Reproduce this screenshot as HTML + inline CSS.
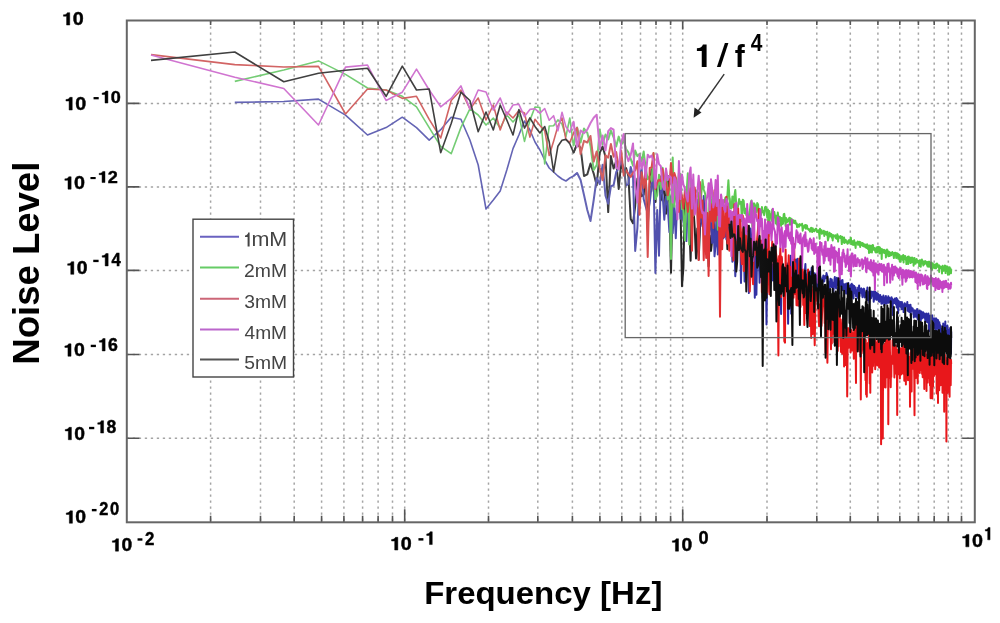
<!DOCTYPE html><html><head><meta charset="utf-8"><style>html,body{margin:0;padding:0;background:#fff;width:1000px;height:623px;overflow:hidden}svg{display:block;filter:blur(0.7px)}text{font-family:"Liberation Sans",sans-serif}</style></head><body>
<svg width="1000" height="623" viewBox="0 0 1000 623">
<rect width="1000" height="623" fill="#fff"/>
<path d="M210.6 20.5V522.3M260.5 20.5V522.3M294.2 20.5V522.3M321.6 20.5V522.3M343.9 20.5V522.3M362.6 20.5V522.3M378.1 20.5V522.3M392.5 20.5V522.3M404.7 20.5V522.3M488.5 20.5V522.3M537.8 20.5V522.3M572.4 20.5V522.3M599.9 20.5V522.3M621.8 20.5V522.3M640.5 20.5V522.3M656.0 20.5V522.3M670.6 20.5V522.3M682.7 20.5V522.3M767.0 20.5V522.3M816.8 20.5V522.3M850.3 20.5V522.3M877.9 20.5V522.3M899.8 20.5V522.3M918.4 20.5V522.3M934.2 20.5V522.3M948.3 20.5V522.3M961.5 20.5V522.3M126.8 103.4H974.8M126.8 186.9H974.8M126.8 270.4H974.8M126.8 354.5H974.8M126.8 438.2H974.8" stroke="#a4a4a4" stroke-width="1.5" stroke-dasharray="2.3 3.7" fill="none"/>
<linearGradient id="gblue" gradientUnits="userSpaceOnUse" x1="150" y1="0" x2="780" y2="0"><stop offset="0" stop-color="#6464b4"/><stop offset="0.7" stop-color="#6464b4"/><stop offset="1" stop-color="#2c2ca2"/></linearGradient>
<linearGradient id="ggreen" gradientUnits="userSpaceOnUse" x1="150" y1="0" x2="780" y2="0"><stop offset="0" stop-color="#74cc74"/><stop offset="0.7" stop-color="#74cc74"/><stop offset="1" stop-color="#55c845"/></linearGradient>
<linearGradient id="gred" gradientUnits="userSpaceOnUse" x1="150" y1="0" x2="780" y2="0"><stop offset="0" stop-color="#d26464"/><stop offset="0.7" stop-color="#d26464"/><stop offset="1" stop-color="#e8171b"/></linearGradient>
<linearGradient id="gmagenta" gradientUnits="userSpaceOnUse" x1="150" y1="0" x2="780" y2="0"><stop offset="0" stop-color="#d074d0"/><stop offset="0.7" stop-color="#d074d0"/><stop offset="1" stop-color="#c443c4"/></linearGradient>
<linearGradient id="gblack" gradientUnits="userSpaceOnUse" x1="150" y1="0" x2="780" y2="0"><stop offset="0" stop-color="#404040"/><stop offset="0.7" stop-color="#404040"/><stop offset="1" stop-color="#0c0c0c"/></linearGradient>
<path d="M234.8,102.4 283.8,101.5 318.5,99.1 345.5,115.1 367.5,135.0 386.1,127.6 402.3,117.2 416.5,127.6 429.2,140.1 440.7,129.7 451.2,117.2 460.9,119.3 469.9,140.0 478.2,165.0 486.0,209.0 493.3,200.0 500.2,191.0 506.8,170.0 513.0,148.6 518.9,135.0 524.5,121.0 529.9,130.0 535.0,142.0 539.9,150.0 544.7,160.0 549.2,168.0 553.6,172.0 557.9,176.0 562.0,179.0 565.9,181.0 569.8,178.0 573.5,176.0 577.1,173.0" stroke="url(#gblue)" stroke-width="1.6" fill="none" stroke-linejoin="round"/>
<path d="M234.8,81.4 283.8,70.0 318.5,60.9 345.5,74.4 367.5,88.0 386.1,90.0 402.3,96.3 416.5,106.8 429.2,127.6 440.7,146.4 451.2,153.7 460.9,127.6 469.9,108.9 478.2,115.0 486.0,125.0 493.3,118.0 500.2,128.0 506.8,115.0 513.0,122.0 518.9,114.9 524.5,141.4 529.9,120.4 535.0,107.0 539.9,107.5 544.7,164.0 549.2,126.0 553.6,125.7 557.9,119.9 562.0,124.0 565.9,136.7 569.8,118.0 573.5,145.6 577.1,127.6" stroke="url(#ggreen)" stroke-width="1.6" fill="none" stroke-linejoin="round"/>
<path d="M151.0,54.6 234.8,64.6 283.8,67.0 318.5,66.4 345.5,114.0 367.5,89.0 386.1,90.0 402.3,98.4 416.5,96.3 429.2,119.3 440.7,138.0 451.2,100.5 460.9,90.0 469.9,108.9 478.2,98.0 486.0,120.0 493.3,105.0 500.2,130.0 506.8,112.0 513.0,118.0 518.9,110.6 524.5,113.0 529.9,137.1 535.0,119.3 539.9,125.5 544.7,130.6 549.2,155.5 553.6,141.2 557.9,126.1 562.0,117.9 565.9,139.3 569.8,142.6 573.5,133.4 577.1,127.8" stroke="url(#gred)" stroke-width="1.6" fill="none" stroke-linejoin="round"/>
<path d="M151.0,55.0 234.8,77.2 283.8,88.5 318.5,125.0 345.5,67.1 367.5,65.0 386.1,100.5 402.3,92.2 416.5,69.2 429.2,90.0 440.7,106.8 451.2,98.4 460.9,85.9 469.9,108.9 478.2,90.0 486.0,92.0 493.3,110.0 500.2,98.0 506.8,115.0 513.0,105.0 518.9,104.3 524.5,116.6 529.9,109.4 535.0,108.8 539.9,113.1 544.7,108.5 549.2,120.2 553.6,115.7 557.9,130.8 562.0,112.3 565.9,126.6 569.8,132.4 573.5,121.6 577.1,146.8" stroke="url(#gmagenta)" stroke-width="1.6" fill="none" stroke-linejoin="round"/>
<path d="M151.0,60.4 234.8,52.0 283.8,81.8 318.5,73.2 345.5,70.3 367.5,68.2 386.1,96.3 402.3,66.1 416.5,90.0 429.2,89.0 440.7,152.7 451.2,123.5 460.9,92.2 469.9,100.5 478.2,131.8 486.0,112.0 493.3,130.0 500.2,105.0 506.8,120.0 513.0,135.0 518.9,109.6 524.5,128.1 529.9,117.9 535.0,126.4 539.9,133.0 544.7,126.5 549.2,141.8 553.6,171.9 557.9,146.2 562.0,140.2 565.9,139.4 569.8,143.7 573.5,152.8 577.1,144.0" stroke="url(#gblack)" stroke-width="1.6" fill="none" stroke-linejoin="round"/>
<path d="M573.5,152.8 577.1,144.0 580.6,147.9 584.0,176.0 587.3,174.4 590.5,163.5 593.7,173.6 596.7,185.4 599.7,152.9 602.6,146.5 605.5,156.8 608.2,212.1 610.9,156.1 613.6,168.6 616.2,161.1 618.7,189.0 621.2,162.7 623.7,172.6 626.1,168.1 628.4,176.3 630.7,219.0 633.0,223.3 635.2,206.0 637.4,178.6 639.5,187.9 641.6,196.2 643.7,194.6 645.7,174.1 647.7,229.2 649.7,184.1 651.6,169.2 653.5,189.4 655.4,202.0 657.2,184.7 659.0,178.4 660.8,200.4 662.6,193.6 664.3,186.5 666.0,213.8 667.7,175.7 669.4,203.2 671.0,272.8 672.7,194.3 674.3,199.1 675.8,196.3 677.4,205.7 678.9,202.5 680.5,206.6 682.0,286.2 683.4,268.0 684.9,198.4 686.4,205.0 687.8,204.0 689.2,221.3 690.6,260.7 692.0,200.4 693.3,206.3 694.7,227.5 696.0,258.4 697.3,228.6 698.7,259.6 699.9,230.6 701.2,200.3 702.5,206.5 703.7,228.7 705.0,232.9 706.2,254.0 707.4,219.2 708.6,266.4 709.8,235.5 711.0,250.8 712.2,240.0 713.3,212.4 714.5,236.4 715.6,246.4 716.7,229.1 717.8,239.2 718.9,239.4 720.0,232.1 721.1,235.7 722.2,225.0 723.3,220.2 724.3,231.5 725.4,232.3 726.4,226.6 727.4,249.3 728.4,230.1 729.4,223.7 730.5,238.0" stroke="url(#gblack)" stroke-width="2.0" fill="none" stroke-linejoin="round"/>
<path d="M573.5,176.0 577.1,173.0 580.6,180.0 584.0,195.0 587.3,210.0 590.5,221.0 593.7,200.0 596.7,178.0 599.7,184.1 602.6,164.7 605.5,195.8 608.2,203.7 610.9,186.3 613.6,185.3 616.2,172.1 618.7,168.2 621.2,160.9 623.7,168.1 626.1,185.5 628.4,183.9 630.7,167.0 633.0,176.0 635.2,251.0 637.4,227.8 639.5,181.6 641.6,167.9 643.7,199.3 645.7,206.4 647.7,213.6 649.7,203.0 651.6,186.3 653.5,173.1 655.4,273.0 657.2,209.9 659.0,255.8 660.8,176.5 662.6,194.5 664.3,219.7 666.0,196.8 667.7,205.8 669.4,232.1 671.0,196.6 672.7,233.3 674.3,205.3 675.8,238.3 677.4,195.1 678.9,178.5 680.5,218.8 682.0,207.4 683.4,222.1 684.9,229.7 686.4,241.1 687.8,202.4 689.2,196.6 690.6,192.0 692.0,208.3 693.3,194.3 694.7,208.2 696.0,198.6 697.3,199.9 698.7,249.5 699.9,214.6 701.2,219.2 702.5,226.2 703.7,196.1 705.0,228.7 706.2,235.6 707.4,217.7 708.6,250.7 709.8,217.0 711.0,224.4 712.2,242.9 713.3,205.9 714.5,256.3 715.6,245.2 716.7,205.8 717.8,254.5 718.9,227.6 720.0,243.7 721.1,208.6 722.2,209.2 723.3,238.2 724.3,236.4 725.4,226.3 726.4,239.4 727.4,234.7 728.4,224.1 729.4,226.8 730.5,237.1" stroke="url(#gblue)" stroke-width="2.0" fill="none" stroke-linejoin="round"/>
<path d="M573.5,145.6 577.1,127.6 580.6,142.5 584.0,128.5 587.3,132.8 590.5,145.9 593.7,170.0 596.7,165.1 599.7,129.8 602.6,144.3 605.5,134.5 608.2,139.4 610.9,130.6 613.6,137.3 616.2,146.5 618.7,136.6 621.2,145.0 623.7,140.0 626.1,149.2 628.4,152.3 630.7,158.9 633.0,165.8 635.2,150.6 637.4,156.1 639.5,153.8 641.6,161.8 643.7,151.5 645.7,168.3 647.7,179.3 649.7,176.0 651.6,181.0 653.5,153.2 655.4,199.1 657.2,195.3 659.0,174.7 660.8,188.9 662.6,167.8 664.3,186.2 666.0,169.5 667.7,199.4 669.4,188.0 671.0,259.0 672.7,157.5 674.3,206.7 675.8,178.0 677.4,192.2 678.9,173.0 680.5,174.0 682.0,209.2 683.4,209.9 684.9,240.4 686.4,195.8 687.8,173.2 689.2,244.6 690.6,179.1 692.0,180.2 693.3,216.0 694.7,195.3 696.0,190.3 697.3,191.9 698.7,193.7 699.9,216.5 701.2,195.2 702.5,180.1 703.7,189.2 705.0,193.2 706.2,201.7 707.4,232.5 708.6,249.2 709.8,183.4 711.0,198.7 712.2,204.1 713.3,223.3 714.5,192.2 715.6,206.8 716.7,190.1 717.8,229.8 718.9,201.5 720.0,199.9 721.1,199.7 722.2,206.1 723.3,201.9 724.3,202.2 725.4,197.5 726.4,207.5 727.4,195.4 728.4,180.3 729.4,197.5 730.5,208.1" stroke="url(#ggreen)" stroke-width="2.0" fill="none" stroke-linejoin="round"/>
<path d="M573.5,133.4 577.1,127.8 580.6,154.0 584.0,140.8 587.3,142.5 590.5,136.0 593.7,161.6 596.7,151.4 599.7,167.5 602.6,180.2 605.5,155.3 608.2,157.7 610.9,143.9 613.6,156.8 616.2,152.1 618.7,168.7 621.2,150.5 623.7,175.6 626.1,170.2 628.4,174.1 630.7,177.0 633.0,172.6 635.2,170.3 637.4,161.2 639.5,214.8 641.6,172.3 643.7,188.0 645.7,167.0 647.7,257.0 649.7,168.0 651.6,167.5 653.5,153.1 655.4,189.0 657.2,182.4 659.0,179.9 660.8,181.1 662.6,169.1 664.3,180.5 666.0,182.3 667.7,195.2 669.4,186.1 671.0,162.9 672.7,182.8 674.3,172.9 675.8,177.8 677.4,207.0 678.9,211.9 680.5,188.8 682.0,197.6 683.4,208.4 684.9,190.7 686.4,199.0 687.8,211.9 689.2,199.3 690.6,188.2 692.0,250.7 693.3,187.1 694.7,187.4 696.0,201.3 697.3,208.3 698.7,260.1 699.9,182.1 701.2,217.6 702.5,200.4 703.7,260.3 705.0,221.6 706.2,257.9 707.4,213.1 708.6,276.0 709.8,203.5 711.0,221.3 712.2,204.1 713.3,228.0 714.5,190.3 715.6,220.7 716.7,204.0 717.8,214.9 718.9,199.9 720.0,316.8 721.1,195.6 722.2,249.2 723.3,200.5 724.3,236.8 725.4,227.1 726.4,196.8 727.4,243.6 728.4,206.6 729.4,250.8 730.5,216.2" stroke="url(#gred)" stroke-width="2.0" fill="none" stroke-linejoin="round"/>
<path d="M573.5,121.6 577.1,146.8 580.6,130.5 584.0,133.2 587.3,129.6 590.5,123.0 593.7,117.8 596.7,114.8 599.7,149.1 602.6,135.4 605.5,150.5 608.2,131.2 610.9,128.1 613.6,129.7 616.2,167.9 618.7,169.0 621.2,142.7 623.7,133.9 626.1,154.0 628.4,161.1 630.7,155.1 633.0,143.4 635.2,185.6 637.4,202.5 639.5,154.6 641.6,168.5 643.7,159.1 645.7,177.4 647.7,154.7 649.7,157.4 651.6,155.5 653.5,160.9 655.4,187.7 657.2,154.2 659.0,164.1 660.8,166.2 662.6,185.8 664.3,189.8 666.0,168.4 667.7,180.1 669.4,175.8 671.0,177.7 672.7,202.6 674.3,177.2 675.8,180.5 677.4,219.4 678.9,161.0 680.5,199.1 682.0,174.5 683.4,184.4 684.9,188.6 686.4,197.0 687.8,201.5 689.2,175.2 690.6,167.6 692.0,208.6 693.3,174.6 694.7,214.7 696.0,208.5 697.3,192.7 698.7,175.7 699.9,193.3 701.2,208.6 702.5,213.2 703.7,212.2 705.0,234.4 706.2,201.1 707.4,195.5 708.6,183.2 709.8,210.0 711.0,179.3 712.2,189.3 713.3,207.4 714.5,201.7 715.6,180.1 716.7,206.0 717.8,175.4 718.9,225.7 720.0,226.4 721.1,194.5 722.2,206.1 723.3,200.2 724.3,209.6 725.4,211.6 726.4,198.8 727.4,202.0 728.4,204.7 729.4,217.1 730.5,210.5" stroke="url(#gmagenta)" stroke-width="2.0" fill="none" stroke-linejoin="round"/>
<path d="M729.4,226.8 730.5,237.1 731.4,234.6 732.4,261.7 733.4,212.6 734.4,243.7 735.3,276.3 736.3,256.2 737.2,242.2 738.2,225.9 739.1,235.2 740.0,220.1 741.0,283.0 741.9,232.5 742.8,249.8 743.7,244.0 744.6,281.6 745.5,254.3 746.3,235.8 747.2,249.0 748.1,264.4 748.9,293.1 749.8,245.6 750.6,228.6 751.5,241.9 752.3,251.8 753.1,273.0 754.0,246.9 754.8,297.7 755.6,252.6 756.4,294.8 757.2,248.1 758.0,249.7 758.8,252.8 759.6,282.7 760.4,245.2 761.1,262.8 761.9,256.4 762.7,298.2 763.4,270.5 764.2,293.5 765.0,273.2 765.7,249.5 766.5,324.4 767.2,274.6 767.9,258.5 768.7,263.5 769.4,276.5 770.1,265.3 770.8,254.4 771.5,263.9 772.2,267.3 772.9,280.4 773.6,264.4 774.3,252.2 775.0,289.6 775.7,259.1 776.4,278.7 777.1,268.1 777.8,274.7 778.4,293.9 779.1,261.7 779.8,279.1 780.4,269.0 781.1,314.0 781.7,258.0 782.4,265.5 783.0,267.9 783.7,266.7 784.3,279.1 785.0,297.1 785.6,273.6 786.2,276.5 786.9,280.1 787.5,263.5 788.1,323.8 788.7,283.9 789.3,269.3 790.0,299.8 790.6,255.7 791.2,313.8 791.8,267.4 792.4,266.5 793.0,266.8 793.6,277.6 794.2,271.7 794.7,268.8 795.3,266.4 795.9,259.6 796.5,271.2 797.1,280.5 797.6,258.8 798.2,270.6 798.8,272.7 799.3,306.1 799.9,269.6 800.5,284.4 801.0,272.1 801.6,268.7 802.1,276.0 802.7,281.2 803.2,272.3 803.8,273.6 804.3,280.3 804.9,270.5 805.4,264.1 805.9,283.3 806.5,274.5 807.0,300.5 807.5,311.9 808.1,270.2 808.6,278.7 809.1,272.3 809.6,271.5 810.1,283.2 810.7,276.8 811.2,278.5 811.7,267.7 812.2,269.9 812.7,271.7 813.2,280.0 813.7,283.9 814.2,282.4 814.7,273.3 815.2,275.4 815.7,275.3 816.2,285.1 816.7,288.4 817.2,275.4 817.6,275.0 818.1,276.5 818.6,287.8 819.1,273.7 819.6,283.0 820.0,276.4 820.5,277.1 821.0,280.8 821.5,284.0 821.9,279.6 822.4,283.8 822.9,278.7 823.3,275.6 823.8,281.5 824.3,281.4 824.7,277.1 825.2,276.0 825.6,278.3 826.1,277.7 826.5,273.1 827.0,275.3 827.4,276.0 827.9,282.1 828.3,284.1 828.8,285.2 829.2,292.9 829.6,281.9 830.1,281.4 830.5,278.7 831.0,281.5 831.4,286.9 831.8,279.5 832.3,287.1 832.7,282.6 833.1,293.6 833.5,290.4 834.0,286.7 834.4,280.1 834.8,277.1 835.2,283.0 835.6,282.6 836.1,288.4 836.5,284.3 836.9,277.7 837.3,283.2 837.7,283.1 838.1,285.1 838.5,283.0 838.9,281.1 839.3,293.4 839.8,278.0 840.2,279.9 840.6,280.1 841.0,285.5 841.4,280.9 841.8,282.6 842.2,284.4 842.5,280.0 842.9,290.2 843.3,283.9 843.7,284.5 844.1,286.0 844.5,284.5 844.9,288.9 845.3,286.8 845.7,284.0 846.1,293.6 846.4,283.6 846.8,286.5 847.2,284.0 847.6,288.5 848.0,284.0 848.3,282.9 848.7,285.9 849.1,288.4 849.5,286.2 849.8,289.5 850.2,296.5 850.6,288.3 850.9,285.2 851.3,284.3 851.7,283.7 852.0,295.3 852.4,288.4 852.8,284.9 853.1,296.9 853.5,298.4 853.8,288.4 854.2,286.1 854.6,290.3 854.9,291.4 855.3,293.3 855.6,287.5 856.0,296.3 856.3,290.1 856.7,291.9 857.0,291.3 857.4,291.1 857.7,297.8 858.1,287.4 858.4,298.8 858.8,293.3 859.1,285.6 859.5,296.3 859.8,290.5 860.2,292.9 860.5,291.0 860.8,288.8 861.2,288.3 861.5,292.9 861.8,290.5 862.2,295.3 862.5,297.2 862.9,289.2 863.2,292.0 863.5,290.1 863.9,288.6 864.2,289.2 864.5,295.9 864.8,297.5 865.2,296.9 865.5,293.1 865.8,293.1 866.1,292.6 866.5,294.3 866.8,290.5 867.1,291.5 867.4,287.5 867.8,300.0 868.1,292.1 868.4,298.5 868.7,292.5 869.0,297.5 869.4,302.9 869.7,292.0 870.0,291.3 870.3,298.9 870.6,298.6 870.9,296.2 871.2,297.9 871.5,292.8 871.9,291.6 872.2,294.6 872.5,295.7 872.8,292.0 873.1,294.5 873.4,293.9 873.7,301.7 874.0,291.5 874.3,299.6 874.6,296.4 874.9,297.1 875.2,291.7 875.5,296.4 875.8,295.2 876.1,296.2 876.4,299.7 876.7,292.7 877.0,299.7 877.3,296.8 877.6,295.1 877.9,299.6 878.2,294.0 878.5,295.2 878.8,301.3 879.1,301.5 879.4,301.7 879.7,297.4 879.9,297.5 880.2,295.0 880.5,296.2 880.8,299.6 881.1,298.8 881.4,303.8 881.7,297.0 882.0,303.6 882.2,299.9 882.5,297.7 882.8,298.5 883.1,298.7 883.4,295.5 883.7,296.7 883.9,298.9 884.2,305.6 884.5,297.7 884.8,299.8 885.0,301.5 885.3,301.0 885.6,301.6 885.9,296.0 886.2,303.8 886.4,297.4 886.7,298.6 887.0,300.6 887.3,299.3 887.5,297.7 887.8,302.1 888.1,302.9 888.3,296.3 888.6,301.8 888.9,301.6 889.1,297.4 889.4,300.5 889.7,302.2 889.9,301.7 890.2,298.8 890.5,298.9 890.7,303.5 891.0,298.6 891.3,297.5 891.5,297.3 891.8,307.0 892.1,301.5 892.3,298.5 892.6,315.0 892.8,301.1 893.1,299.7 893.4,302.9 893.6,300.2 893.9,300.0 894.1,300.7 894.4,300.7 894.7,303.0 894.9,298.4 895.2,302.0 895.4,303.4 895.7,298.5 895.9,304.2 896.2,301.5 896.4,298.0 896.7,307.4 896.9,302.2 897.2,300.2 897.4,299.3 897.7,301.5 897.9,304.8 898.2,313.1 898.4,300.9 898.7,301.1 898.9,302.0 899.2,304.7 899.4,302.6 899.7,302.1 899.9,305.9 900.2,306.6 900.4,302.0 900.7,303.0 900.9,304.7 901.1,303.8 901.4,303.3 901.6,309.3 901.9,302.1 902.1,307.4 902.4,303.2 902.6,309.1 902.8,308.2 903.1,307.2 903.3,304.9 903.6,312.1 903.8,306.4 904.0,307.3 904.3,305.2 904.5,304.7 904.7,303.3 905.0,305.2 905.2,304.0 905.4,305.7 905.7,304.3 905.9,306.6 906.1,305.3 906.4,305.8 906.6,305.2 906.8,304.3 907.1,304.6 907.3,302.1 907.5,310.7 907.8,306.7 908.0,306.8 908.2,305.7 908.5,305.7 908.7,311.6 908.9,305.0 909.1,305.8 909.4,307.5 909.6,305.2 909.8,312.1 910.0,307.3 910.3,306.5 910.5,304.7 910.7,315.9 910.9,308.6 911.2,307.9 911.4,307.4 911.6,310.5 911.8,309.1 912.1,310.8 912.3,309.9 912.5,310.1 912.7,308.6 912.9,310.2 913.2,310.3 913.4,314.4 913.6,311.0 913.8,317.5 914.0,313.7 914.3,312.5 914.5,312.8 914.7,313.7 914.9,310.2 915.1,311.9 915.4,312.0 915.6,311.2 915.8,316.8 916.0,315.5 916.2,312.4 916.4,311.0 916.6,311.4 916.9,311.4 917.1,309.0 917.3,315.7 917.5,318.8 917.7,310.4 917.9,311.7 918.1,319.6 918.3,318.3 918.6,313.8 918.8,316.7 919.0,311.2 919.2,316.9 919.4,329.9 919.6,314.6 919.8,310.5 920.0,314.5 920.2,315.9 920.4,314.4 920.6,316.5 920.8,320.7 921.0,313.4 921.3,311.4 921.5,315.0 921.7,318.6 921.9,316.3 922.1,312.6 922.3,316.7 922.5,318.0 922.7,316.1 922.9,316.2 923.1,312.3 923.3,316.9 923.5,315.7 923.7,313.7 923.9,317.2 924.1,317.6 924.3,313.5 924.5,317.4 924.7,314.7 924.9,314.7 925.1,315.8 925.3,322.0 925.5,317.1 925.7,315.4 925.9,314.9 926.1,319.7 926.3,313.4 926.5,314.2 926.7,315.2 926.9,314.4 927.1,315.6 927.3,322.2 927.5,315.8 927.7,316.9 927.9,316.1 928.1,314.6 928.3,316.0 928.4,313.4 928.6,322.3 928.8,317.4 929.0,331.2 929.2,317.7 929.4,316.7 929.6,317.8 929.8,320.1 930.0,320.0 930.2,315.4 930.4,320.1 930.6,326.2 930.8,318.7 930.9,320.8 931.1,321.6 931.3,319.7 931.5,317.9 931.7,327.1 931.9,326.1 932.1,315.2 932.3,318.6 932.5,317.9 932.6,320.5 932.8,322.3 933.0,321.2 933.2,320.7 933.4,319.4 933.6,323.2 933.8,324.4 933.9,320.0 934.1,318.9 934.3,318.4 934.5,319.7 934.7,319.0 934.9,321.2 935.1,328.5 935.2,320.6 935.4,328.9 935.6,318.5 935.8,332.1 936.0,324.9 936.1,321.4 936.3,318.4 936.5,320.3 936.7,328.6 936.9,321.9 937.1,327.2 937.2,324.5 937.4,319.9 937.6,320.5 937.8,324.3 938.0,320.0 938.1,320.3 938.3,333.7 938.5,331.0 938.7,324.7 938.8,323.0 939.0,333.1 939.2,327.2 939.4,322.2 939.6,341.9 939.7,333.4 939.9,324.6 940.1,326.3 940.3,327.7 940.4,327.1 940.6,325.8 940.8,338.6 941.0,330.5 941.1,342.3 941.3,331.5 941.5,332.4 941.7,334.2 941.8,329.3 942.0,330.3 942.2,335.4 942.4,335.0 942.5,331.2 942.7,331.9 942.9,328.1 943.0,342.1 943.2,323.5 943.4,325.9 943.6,326.3 943.7,325.2 943.9,337.5 944.1,326.7 944.2,325.3 944.4,325.3 944.6,336.9 944.8,334.4 944.9,327.9 945.1,330.3 945.3,321.4 945.4,332.9 945.6,326.3 945.8,330.4 945.9,328.1 946.1,326.3 946.3,337.5 946.4,330.0 946.6,327.2 946.8,342.9 946.9,345.1 947.1,340.2 947.3,326.3 947.4,325.5 947.6,336.3 947.8,332.7 947.9,338.8 948.1,332.9 948.3,329.5 948.4,340.6 948.6,343.0 948.8,330.6 948.9,335.5 949.1,336.4 949.2,332.6 949.4,342.0 949.6,332.3 949.7,338.0 949.9,336.5 950.1,327.9 950.2,328.1 950.4,348.4 950.5,346.9 950.7,337.5 950.9,353.7 951.0,350.9 951.2,331.4" stroke="url(#gblue)" stroke-width="2.0" fill="none" stroke-linejoin="round"/>
<path d="M729.4,197.5 730.5,208.1 731.4,208.4 732.4,196.4 733.4,207.2 734.4,195.9 735.3,189.9 736.3,205.7 737.2,209.3 738.2,205.7 739.1,199.1 740.0,203.8 741.0,201.8 741.9,221.2 742.8,199.7 743.7,200.9 744.6,213.2 745.5,208.8 746.3,215.0 747.2,211.4 748.1,220.3 748.9,221.4 749.8,211.5 750.6,203.3 751.5,200.5 752.3,226.9 753.1,209.7 754.0,203.3 754.8,204.3 755.6,209.0 756.4,212.1 757.2,203.0 758.0,204.2 758.8,213.1 759.6,209.1 760.4,216.1 761.1,214.8 761.9,207.0 762.7,212.3 763.4,210.9 764.2,215.2 765.0,207.3 765.7,206.7 766.5,210.0 767.2,217.3 767.9,209.4 768.7,236.2 769.4,211.0 770.1,216.5 770.8,214.3 771.5,220.7 772.2,209.5 772.9,213.5 773.6,217.6 774.3,211.9 775.0,215.9 775.7,223.4 776.4,215.8 777.1,224.7 777.8,212.5 778.4,218.2 779.1,221.2 779.8,216.8 780.4,217.7 781.1,226.0 781.7,218.0 782.4,224.0 783.0,223.8 783.7,214.3 784.3,213.8 785.0,219.6 785.6,226.0 786.2,218.1 786.9,219.4 787.5,221.9 788.1,221.3 788.7,219.6 789.3,217.7 790.0,224.7 790.6,218.3 791.2,221.7 791.8,219.2 792.4,223.3 793.0,222.5 793.6,220.3 794.2,222.6 794.7,223.2 795.3,220.7 795.9,223.7 796.5,223.2 797.1,227.2 797.6,224.4 798.2,224.7 798.8,226.8 799.3,226.5 799.9,224.1 800.5,224.8 801.0,225.1 801.6,225.6 802.1,223.8 802.7,230.7 803.2,227.1 803.8,227.6 804.3,225.4 804.9,227.8 805.4,225.0 805.9,228.7 806.5,225.3 807.0,225.6 807.5,228.8 808.1,228.8 808.6,229.7 809.1,229.4 809.6,230.5 810.1,231.7 810.7,228.3 811.2,227.7 811.7,228.5 812.2,232.0 812.7,228.2 813.2,231.0 813.7,229.7 814.2,231.3 814.7,229.9 815.2,229.3 815.7,229.8 816.2,228.6 816.7,231.4 817.2,230.3 817.6,232.1 818.1,230.8 818.6,230.2 819.1,232.8 819.6,238.7 820.0,228.7 820.5,230.3 821.0,231.7 821.5,230.3 821.9,233.8 822.4,231.5 822.9,232.2 823.3,233.3 823.8,230.7 824.3,236.0 824.7,232.3 825.2,231.7 825.6,231.8 826.1,234.2 826.5,234.8 827.0,233.7 827.4,231.8 827.9,240.4 828.3,238.7 828.8,236.9 829.2,235.1 829.6,232.7 830.1,236.3 830.5,234.7 831.0,234.0 831.4,234.0 831.8,237.7 832.3,235.6 832.7,240.5 833.1,235.1 833.5,236.2 834.0,235.9 834.4,235.8 834.8,236.4 835.2,235.3 835.6,237.9 836.1,237.1 836.5,238.7 836.9,237.3 837.3,234.2 837.7,236.3 838.1,241.6 838.5,236.3 838.9,237.2 839.3,237.0 839.8,236.7 840.2,238.0 840.6,236.1 841.0,237.0 841.4,237.9 841.8,244.1 842.2,236.8 842.5,237.9 842.9,237.9 843.3,241.5 843.7,242.5 844.1,237.5 844.5,243.0 844.9,241.6 845.3,240.3 845.7,239.8 846.1,241.0 846.4,242.6 846.8,241.4 847.2,242.7 847.6,243.8 848.0,241.2 848.3,241.5 848.7,240.3 849.1,242.8 849.5,240.3 849.8,240.9 850.2,239.6 850.6,240.5 850.9,237.8 851.3,244.3 851.7,241.9 852.0,241.0 852.4,243.8 852.8,241.4 853.1,245.0 853.5,241.7 853.8,242.4 854.2,240.3 854.6,244.8 854.9,242.3 855.3,245.6 855.6,247.9 856.0,243.2 856.3,242.7 856.7,242.6 857.0,242.8 857.4,243.1 857.7,241.6 858.1,244.8 858.4,244.1 858.8,243.2 859.1,242.2 859.5,241.7 859.8,243.5 860.2,247.0 860.5,242.2 860.8,245.4 861.2,243.9 861.5,244.1 861.8,245.1 862.2,242.9 862.5,244.1 862.9,246.1 863.2,243.6 863.5,244.5 863.9,246.4 864.2,244.6 864.5,246.5 864.8,244.4 865.2,244.7 865.5,247.1 865.8,245.9 866.1,247.6 866.5,247.9 866.8,247.6 867.1,244.2 867.4,246.0 867.8,245.4 868.1,249.1 868.4,245.8 868.7,245.9 869.0,252.9 869.4,245.4 869.7,250.1 870.0,246.9 870.3,252.2 870.6,245.7 870.9,248.8 871.2,249.0 871.5,251.2 871.9,252.6 872.2,248.3 872.5,245.1 872.8,247.0 873.1,245.2 873.4,249.7 873.7,248.3 874.0,247.8 874.3,248.1 874.6,248.4 874.9,249.9 875.2,251.1 875.5,252.4 875.8,249.4 876.1,249.8 876.4,247.6 876.7,252.0 877.0,252.5 877.3,251.8 877.6,246.9 877.9,248.1 878.2,249.6 878.5,247.5 878.8,246.8 879.1,251.3 879.4,253.4 879.7,250.3 879.9,247.5 880.2,253.3 880.5,252.4 880.8,249.4 881.1,248.8 881.4,250.5 881.7,258.9 882.0,250.2 882.2,250.2 882.5,249.4 882.8,250.2 883.1,250.6 883.4,252.4 883.7,250.0 883.9,250.2 884.2,249.9 884.5,253.1 884.8,253.0 885.0,251.5 885.3,253.1 885.6,250.5 885.9,257.5 886.2,253.8 886.4,252.1 886.7,252.1 887.0,249.6 887.3,254.6 887.5,250.2 887.8,252.9 888.1,251.9 888.3,256.2 888.6,253.2 888.9,251.8 889.1,253.2 889.4,251.9 889.7,256.1 889.9,255.0 890.2,255.1 890.5,253.1 890.7,253.8 891.0,252.9 891.3,255.2 891.5,253.1 891.8,253.6 892.1,253.2 892.3,252.1 892.6,254.6 892.8,254.5 893.1,254.3 893.4,253.2 893.6,256.3 893.9,258.0 894.1,253.0 894.4,253.1 894.7,253.7 894.9,252.7 895.2,253.7 895.4,253.6 895.7,252.9 895.9,254.3 896.2,257.9 896.4,253.3 896.7,254.7 896.9,253.2 897.2,256.1 897.4,254.2 897.7,255.4 897.9,253.7 898.2,258.7 898.4,254.6 898.7,254.7 898.9,256.8 899.2,254.8 899.4,256.6 899.7,261.3 899.9,257.9 900.2,256.4 900.4,257.2 900.7,261.8 900.9,256.2 901.1,260.0 901.4,257.0 901.6,256.9 901.9,258.2 902.1,257.7 902.4,255.7 902.6,256.7 902.8,257.3 903.1,260.4 903.3,255.0 903.6,262.4 903.8,257.6 904.0,256.6 904.3,256.4 904.5,257.1 904.7,259.1 905.0,256.0 905.2,256.0 905.4,257.4 905.7,257.4 905.9,259.8 906.1,258.5 906.4,264.1 906.6,260.6 906.8,258.7 907.1,258.9 907.3,259.4 907.5,257.4 907.8,256.7 908.0,259.4 908.2,263.9 908.5,260.7 908.7,256.5 908.9,259.6 909.1,259.5 909.4,257.2 909.6,257.6 909.8,259.4 910.0,257.7 910.3,260.3 910.5,263.1 910.7,259.2 910.9,257.8 911.2,260.7 911.4,259.0 911.6,261.5 911.8,262.2 912.1,257.5 912.3,260.2 912.5,258.9 912.7,261.3 912.9,260.1 913.2,260.3 913.4,258.3 913.6,265.8 913.8,260.9 914.0,259.3 914.3,259.1 914.5,258.1 914.7,260.4 914.9,260.0 915.1,263.8 915.4,263.6 915.6,263.6 915.8,260.8 916.0,260.2 916.2,261.4 916.4,261.4 916.6,259.0 916.9,262.1 917.1,261.8 917.3,262.5 917.5,260.3 917.7,260.6 917.9,262.3 918.1,260.8 918.3,261.4 918.6,262.5 918.8,262.8 919.0,261.7 919.2,266.1 919.4,260.8 919.6,261.4 919.8,260.3 920.0,265.3 920.2,263.6 920.4,261.0 920.6,263.9 920.8,266.8 921.0,261.2 921.3,260.0 921.5,263.0 921.7,263.6 921.9,259.4 922.1,262.8 922.3,261.2 922.5,260.7 922.7,261.4 922.9,261.2 923.1,263.9 923.3,265.4 923.5,262.8 923.7,263.6 923.9,264.2 924.1,264.5 924.3,264.0 924.5,261.7 924.7,263.9 924.9,261.6 925.1,260.9 925.3,261.3 925.5,261.2 925.7,261.7 925.9,262.7 926.1,262.7 926.3,262.2 926.5,262.6 926.7,263.5 926.9,264.9 927.1,261.9 927.3,262.6 927.5,266.5 927.7,265.3 927.9,263.1 928.1,263.3 928.3,264.1 928.4,262.6 928.6,261.7 928.8,266.7 929.0,262.2 929.2,263.3 929.4,261.7 929.6,262.4 929.8,263.2 930.0,263.1 930.2,264.0 930.4,263.4 930.6,267.1 930.8,264.0 930.9,263.9 931.1,268.6 931.3,263.7 931.5,262.4 931.7,264.3 931.9,264.4 932.1,269.3 932.3,268.9 932.5,265.4 932.6,263.9 932.8,263.5 933.0,264.8 933.2,265.2 933.4,265.3 933.6,266.2 933.8,266.4 933.9,264.8 934.1,267.6 934.3,266.3 934.5,265.6 934.7,267.5 934.9,268.1 935.1,265.9 935.2,264.4 935.4,264.3 935.6,266.2 935.8,265.9 936.0,268.3 936.1,268.2 936.3,266.6 936.5,265.1 936.7,266.0 936.9,263.4 937.1,266.7 937.2,266.4 937.4,264.0 937.6,265.7 937.8,265.6 938.0,266.7 938.1,266.6 938.3,266.7 938.5,265.9 938.7,266.1 938.8,267.9 939.0,265.3 939.2,272.0 939.4,267.1 939.6,268.2 939.7,266.1 939.9,266.4 940.1,268.3 940.3,268.3 940.4,266.4 940.6,267.2 940.8,267.1 941.0,268.3 941.1,266.8 941.3,267.0 941.5,267.1 941.7,267.2 941.8,266.8 942.0,273.5 942.2,267.4 942.4,266.4 942.5,266.9 942.7,265.8 942.9,267.8 943.0,267.8 943.2,268.7 943.4,268.4 943.6,268.7 943.7,270.8 943.9,267.9 944.1,268.8 944.2,267.0 944.4,268.2 944.6,268.8 944.8,269.0 944.9,265.6 945.1,267.5 945.3,270.1 945.4,269.3 945.6,273.1 945.8,266.1 945.9,270.8 946.1,269.7 946.3,268.3 946.4,267.9 946.6,269.3 946.8,270.3 946.9,271.0 947.1,270.3 947.3,269.9 947.4,266.6 947.6,270.2 947.8,268.2 947.9,274.7 948.1,268.9 948.3,269.6 948.4,270.1 948.6,270.5 948.8,268.1 948.9,268.8 949.1,270.7 949.2,274.5 949.4,269.1 949.6,267.2 949.7,269.4 949.9,270.8 950.1,269.6 950.2,271.4 950.4,269.1 950.5,268.6 950.7,271.5 950.9,269.7 951.0,273.2 951.2,269.3" stroke="url(#ggreen)" stroke-width="2.0" fill="none" stroke-linejoin="round"/>
<path d="M729.4,250.8 730.5,216.2 731.4,224.5 732.4,223.2 733.4,260.4 734.4,204.2 735.3,223.2 736.3,243.8 737.2,224.7 738.2,208.6 739.1,240.7 740.0,218.8 741.0,255.2 741.9,264.1 742.8,215.7 743.7,271.0 744.6,227.2 745.5,270.9 746.3,237.8 747.2,225.3 748.1,229.9 748.9,231.8 749.8,291.5 750.6,265.6 751.5,240.9 752.3,268.6 753.1,284.3 754.0,226.3 754.8,249.1 755.6,254.7 756.4,255.3 757.2,238.1 758.0,228.8 758.8,209.1 759.6,251.4 760.4,251.7 761.1,240.5 761.9,292.2 762.7,254.9 763.4,249.3 764.2,238.5 765.0,275.9 765.7,228.1 766.5,253.1 767.2,292.3 767.9,221.7 768.7,235.9 769.4,294.3 770.1,256.2 770.8,275.3 771.5,263.4 772.2,241.5 772.9,253.0 773.6,250.2 774.3,257.2 775.0,245.7 775.7,251.2 776.4,256.0 777.1,260.5 777.8,284.4 778.4,355.4 779.1,256.0 779.8,259.5 780.4,248.1 781.1,297.0 781.7,256.8 782.4,275.3 783.0,269.5 783.7,278.8 784.3,341.0 785.0,342.7 785.6,249.5 786.2,283.8 786.9,288.9 787.5,287.2 788.1,276.4 788.7,255.2 789.3,270.7 790.0,291.3 790.6,266.9 791.2,278.0 791.8,293.3 792.4,269.2 793.0,272.0 793.6,297.8 794.2,243.9 794.7,294.0 795.3,263.3 795.9,276.8 796.5,305.3 797.1,299.0 797.6,290.6 798.2,305.6 798.8,274.1 799.3,258.6 799.9,292.2 800.5,307.0 801.0,286.8 801.6,288.3 802.1,282.5 802.7,269.2 803.2,305.0 803.8,280.2 804.3,325.0 804.9,290.2 805.4,304.0 805.9,313.1 806.5,285.4 807.0,283.8 807.5,295.6 808.1,269.6 808.6,296.3 809.1,296.2 809.6,325.9 810.1,320.1 810.7,293.0 811.2,338.1 811.7,290.2 812.2,315.3 812.7,334.1 813.2,286.4 813.7,291.7 814.2,319.0 814.7,345.2 815.2,314.9 815.7,294.7 816.2,291.2 816.7,292.4 817.2,289.6 817.6,301.3 818.1,297.3 818.6,317.3 819.1,326.2 819.6,304.6 820.0,319.6 820.5,310.4 821.0,325.9 821.5,325.9 821.9,317.1 822.4,303.5 822.9,292.2 823.3,302.6 823.8,294.1 824.3,306.1 824.7,323.3 825.2,323.3 825.6,352.7 826.1,297.5 826.5,302.7 827.0,346.3 827.4,362.7 827.9,321.2 828.3,322.7 828.8,306.2 829.2,309.3 829.6,305.2 830.1,314.3 830.5,327.4 831.0,349.2 831.4,310.3 831.8,343.5 832.3,300.6 832.7,302.4 833.1,305.7 833.5,333.7 834.0,306.6 834.4,342.3 834.8,340.1 835.2,302.8 835.6,336.0 836.1,322.0 836.5,323.1 836.9,336.3 837.3,315.1 837.7,351.1 838.1,324.3 838.5,346.3 838.9,304.0 839.3,336.7 839.8,315.8 840.2,335.3 840.6,319.4 841.0,351.9 841.4,333.9 841.8,335.9 842.2,353.8 842.5,325.7 842.9,318.6 843.3,335.4 843.7,309.7 844.1,366.4 844.5,329.6 844.9,355.1 845.3,365.0 845.7,326.8 846.1,337.4 846.4,362.4 846.8,340.1 847.2,396.4 847.6,350.8 848.0,327.9 848.3,330.5 848.7,347.7 849.1,329.1 849.5,333.6 849.8,337.0 850.2,341.3 850.6,352.5 850.9,339.1 851.3,330.3 851.7,330.1 852.0,350.5 852.4,349.7 852.8,341.9 853.1,333.1 853.5,333.0 853.8,358.8 854.2,327.9 854.6,333.7 854.9,346.1 855.3,336.3 855.6,345.8 856.0,383.0 856.3,317.6 856.7,338.0 857.0,333.9 857.4,324.5 857.7,328.8 858.1,339.0 858.4,349.5 858.8,342.4 859.1,327.5 859.5,351.6 859.8,332.6 860.2,341.5 860.5,338.6 860.8,399.5 861.2,328.2 861.5,344.7 861.8,352.9 862.2,321.7 862.5,326.9 862.9,348.3 863.2,330.3 863.5,349.6 863.9,315.9 864.2,332.9 864.5,336.1 864.8,355.8 865.2,350.5 865.5,380.3 865.8,340.1 866.1,394.4 866.5,352.9 866.8,396.7 867.1,357.6 867.4,345.2 867.8,343.1 868.1,352.1 868.4,365.4 868.7,351.3 869.0,316.9 869.4,351.6 869.7,383.6 870.0,335.6 870.3,392.7 870.6,346.2 870.9,341.7 871.2,327.6 871.5,332.5 871.9,340.7 872.2,372.5 872.5,360.0 872.8,354.7 873.1,366.1 873.4,339.2 873.7,335.8 874.0,361.9 874.3,355.3 874.6,344.8 874.9,336.3 875.2,369.3 875.5,353.9 875.8,357.0 876.1,347.8 876.4,342.4 876.7,343.9 877.0,345.6 877.3,365.4 877.6,337.4 877.9,341.8 878.2,356.8 878.5,335.0 878.8,348.1 879.1,367.4 879.4,341.8 879.7,353.1 879.9,344.5 880.2,367.5 880.5,338.1 880.8,337.2 881.1,444.2 881.4,344.4 881.7,338.9 882.0,354.2 882.2,333.1 882.5,342.5 882.8,438.4 883.1,357.9 883.4,353.5 883.7,387.4 883.9,345.8 884.2,353.2 884.5,354.3 884.8,344.2 885.0,343.5 885.3,348.2 885.6,387.6 885.9,337.7 886.2,348.8 886.4,377.5 886.7,349.6 887.0,354.3 887.3,348.4 887.5,349.6 887.8,357.8 888.1,329.5 888.3,424.2 888.6,355.7 888.9,378.0 889.1,359.0 889.4,348.5 889.7,330.4 889.9,349.0 890.2,360.9 890.5,369.0 890.7,387.2 891.0,369.5 891.3,377.1 891.5,360.6 891.8,356.0 892.1,359.7 892.3,358.0 892.6,340.2 892.8,363.7 893.1,342.0 893.4,352.0 893.6,354.7 893.9,355.9 894.1,363.2 894.4,377.6 894.7,345.7 894.9,364.1 895.2,373.8 895.4,357.2 895.7,354.9 895.9,345.5 896.2,363.5 896.4,369.2 896.7,364.9 896.9,364.0 897.2,415.0 897.4,350.5 897.7,349.6 897.9,349.6 898.2,349.3 898.4,362.8 898.7,351.2 898.9,374.2 899.2,357.4 899.4,366.3 899.7,348.4 899.9,378.4 900.2,355.7 900.4,351.2 900.7,356.1 900.9,348.3 901.1,374.6 901.4,359.8 901.6,358.5 901.9,363.7 902.1,361.3 902.4,356.3 902.6,359.5 902.8,340.0 903.1,373.8 903.3,351.2 903.6,350.1 903.8,353.1 904.0,353.5 904.3,380.7 904.5,372.1 904.7,345.5 905.0,356.3 905.2,340.3 905.4,367.2 905.7,351.8 905.9,384.5 906.1,340.8 906.4,357.1 906.6,366.9 906.8,344.2 907.1,378.4 907.3,352.3 907.5,348.3 907.8,368.8 908.0,380.3 908.2,364.6 908.5,358.4 908.7,366.1 908.9,362.0 909.1,357.1 909.4,374.9 909.6,357.6 909.8,365.0 910.0,406.8 910.3,360.5 910.5,353.1 910.7,371.8 910.9,376.4 911.2,346.4 911.4,376.6 911.6,391.6 911.8,344.9 912.1,338.3 912.3,348.4 912.5,359.6 912.7,356.0 912.9,368.4 913.2,366.1 913.4,368.7 913.6,349.9 913.8,363.4 914.0,362.0 914.3,378.9 914.5,415.2 914.7,347.8 914.9,363.0 915.1,377.3 915.4,347.0 915.6,356.0 915.8,378.0 916.0,349.3 916.2,349.5 916.4,352.8 916.6,358.7 916.9,351.0 917.1,353.3 917.3,366.4 917.5,373.1 917.7,383.4 917.9,361.3 918.1,350.1 918.3,372.3 918.6,358.5 918.8,364.9 919.0,355.9 919.2,372.1 919.4,359.6 919.6,356.9 919.8,373.0 920.0,348.0 920.2,363.9 920.4,361.5 920.6,351.7 920.8,350.1 921.0,360.6 921.3,355.1 921.5,369.9 921.7,348.0 921.9,361.3 922.1,373.9 922.3,355.1 922.5,363.6 922.7,377.2 922.9,359.9 923.1,366.8 923.3,356.1 923.5,348.6 923.7,354.1 923.9,356.7 924.1,368.4 924.3,388.9 924.5,361.5 924.7,378.4 924.9,358.6 925.1,352.2 925.3,349.8 925.5,342.0 925.7,373.1 925.9,355.1 926.1,354.4 926.3,360.6 926.5,391.1 926.7,364.3 926.9,355.7 927.1,372.4 927.3,377.6 927.5,367.7 927.7,382.6 927.9,375.6 928.1,351.7 928.3,344.4 928.4,364.0 928.6,358.2 928.8,345.0 929.0,362.1 929.2,355.1 929.4,377.8 929.6,367.3 929.8,370.8 930.0,385.4 930.2,369.2 930.4,352.8 930.6,398.3 930.8,361.3 930.9,366.0 931.1,348.5 931.3,371.9 931.5,368.0 931.7,369.2 931.9,388.7 932.1,357.3 932.3,398.5 932.5,391.8 932.6,351.6 932.8,347.6 933.0,386.7 933.2,361.5 933.4,346.0 933.6,369.7 933.8,358.4 933.9,350.8 934.1,375.8 934.3,364.4 934.5,363.7 934.7,362.4 934.9,350.5 935.1,354.2 935.2,366.5 935.4,358.8 935.6,355.5 935.8,373.9 936.0,374.5 936.1,374.6 936.3,373.2 936.5,373.4 936.7,393.5 936.9,363.6 937.1,370.8 937.2,367.8 937.4,358.0 937.6,351.3 937.8,375.6 938.0,402.9 938.1,365.6 938.3,371.5 938.5,355.4 938.7,370.7 938.8,356.3 939.0,353.6 939.2,390.3 939.4,363.1 939.6,367.2 939.7,363.1 939.9,351.1 940.1,353.3 940.3,361.2 940.4,363.5 940.6,385.3 940.8,376.5 941.0,370.9 941.1,379.1 941.3,378.7 941.5,375.7 941.7,363.6 941.8,366.3 942.0,368.4 942.2,361.3 942.4,351.3 942.5,392.7 942.7,357.3 942.9,359.3 943.0,356.9 943.2,375.8 943.4,346.8 943.6,377.2 943.7,357.3 943.9,354.8 944.1,381.4 944.2,411.7 944.4,362.8 944.6,380.2 944.8,375.6 944.9,354.8 945.1,367.1 945.3,367.5 945.4,363.3 945.6,360.9 945.8,376.0 945.9,371.3 946.1,362.2 946.3,386.1 946.4,441.4 946.6,376.1 946.8,367.2 946.9,364.4 947.1,360.9 947.3,357.8 947.4,393.0 947.6,373.0 947.8,372.1 947.9,361.5 948.1,372.4 948.3,389.5 948.4,374.3 948.6,360.2 948.8,385.4 948.9,391.7 949.1,374.5 949.2,356.9 949.4,381.3 949.6,396.8 949.7,374.9 949.9,372.5 950.1,372.8 950.2,360.2 950.4,368.3 950.5,361.2 950.7,385.2 950.9,371.2 951.0,359.8 951.2,364.0" stroke="url(#gred)" stroke-width="2.0" fill="none" stroke-linejoin="round"/>
<path d="M729.4,217.1 730.5,210.5 731.4,256.3 732.4,212.0 733.4,214.8 734.4,215.1 735.3,204.2 736.3,202.7 737.2,240.2 738.2,215.7 739.1,214.9 740.0,218.1 741.0,214.9 741.9,214.9 742.8,227.5 743.7,226.2 744.6,218.6 745.5,232.1 746.3,234.2 747.2,204.0 748.1,221.8 748.9,221.9 749.8,216.2 750.6,222.6 751.5,201.0 752.3,205.6 753.1,261.0 754.0,238.8 754.8,207.4 755.6,212.7 756.4,216.3 757.2,221.0 758.0,219.9 758.8,237.5 759.6,228.5 760.4,209.5 761.1,226.3 761.9,218.8 762.7,250.7 763.4,231.3 764.2,237.8 765.0,219.4 765.7,246.4 766.5,248.0 767.2,224.9 767.9,221.9 768.7,233.3 769.4,232.9 770.1,222.0 770.8,229.0 771.5,240.5 772.2,229.0 772.9,208.7 773.6,227.0 774.3,229.5 775.0,231.9 775.7,247.1 776.4,234.7 777.1,243.6 777.8,217.2 778.4,218.1 779.1,224.7 779.8,235.1 780.4,247.2 781.1,232.2 781.7,227.6 782.4,238.3 783.0,251.8 783.7,248.1 784.3,233.5 785.0,230.9 785.6,247.0 786.2,225.2 786.9,235.8 787.5,230.8 788.1,224.4 788.7,238.0 789.3,237.4 790.0,240.4 790.6,232.2 791.2,243.8 791.8,219.7 792.4,275.9 793.0,237.8 793.6,257.9 794.2,247.2 794.7,248.0 795.3,244.4 795.9,237.6 796.5,230.2 797.1,235.6 797.6,232.2 798.2,242.2 798.8,241.2 799.3,235.6 799.9,243.4 800.5,233.6 801.0,240.9 801.6,239.6 802.1,267.9 802.7,240.0 803.2,237.4 803.8,237.1 804.3,235.1 804.9,246.3 805.4,232.3 805.9,245.8 806.5,239.5 807.0,243.5 807.5,247.1 808.1,251.8 808.6,250.0 809.1,242.1 809.6,240.3 810.1,238.4 810.7,242.7 811.2,239.9 811.7,248.6 812.2,248.9 812.7,250.3 813.2,246.8 813.7,238.2 814.2,253.9 814.7,252.8 815.2,246.7 815.7,243.8 816.2,252.4 816.7,249.8 817.2,251.2 817.6,282.7 818.1,247.1 818.6,269.2 819.1,253.2 819.6,272.6 820.0,241.9 820.5,245.9 821.0,247.7 821.5,243.0 821.9,250.8 822.4,254.8 822.9,249.8 823.3,253.8 823.8,263.2 824.3,246.1 824.7,260.7 825.2,241.8 825.6,241.8 826.1,254.4 826.5,256.2 827.0,251.2 827.4,255.4 827.9,248.6 828.3,255.2 828.8,260.4 829.2,252.9 829.6,248.8 830.1,257.1 830.5,264.7 831.0,249.4 831.4,245.0 831.8,257.1 832.3,257.7 832.7,247.4 833.1,255.8 833.5,250.2 834.0,271.7 834.4,247.3 834.8,271.2 835.2,260.4 835.6,251.2 836.1,251.5 836.5,253.7 836.9,255.7 837.3,253.0 837.7,262.4 838.1,258.0 838.5,254.3 838.9,248.8 839.3,272.3 839.8,279.4 840.2,259.8 840.6,257.2 841.0,261.3 841.4,260.5 841.8,274.3 842.2,257.1 842.5,252.4 842.9,257.3 843.3,249.7 843.7,257.2 844.1,253.5 844.5,261.8 844.9,261.2 845.3,261.2 845.7,267.0 846.1,265.2 846.4,255.6 846.8,259.6 847.2,258.9 847.6,249.3 848.0,264.0 848.3,260.0 848.7,262.5 849.1,271.1 849.5,268.9 849.8,256.8 850.2,267.0 850.6,256.3 850.9,276.4 851.3,262.8 851.7,253.6 852.0,262.0 852.4,253.4 852.8,260.9 853.1,258.7 853.5,266.4 853.8,260.6 854.2,257.9 854.6,255.3 854.9,262.4 855.3,255.2 855.6,266.1 856.0,262.6 856.3,263.2 856.7,266.1 857.0,261.7 857.4,259.3 857.7,258.2 858.1,262.2 858.4,262.2 858.8,262.7 859.1,260.1 859.5,265.7 859.8,266.3 860.2,265.1 860.5,263.1 860.8,262.9 861.2,262.7 861.5,259.4 861.8,260.0 862.2,259.4 862.5,268.9 862.9,263.1 863.2,267.5 863.5,260.4 863.9,261.4 864.2,262.1 864.5,263.3 864.8,263.8 865.2,257.6 865.5,261.0 865.8,262.9 866.1,271.6 866.5,272.2 866.8,262.9 867.1,260.4 867.4,258.6 867.8,267.9 868.1,263.5 868.4,268.4 868.7,262.7 869.0,262.3 869.4,264.8 869.7,265.8 870.0,269.5 870.3,262.1 870.6,270.3 870.9,260.0 871.2,264.5 871.5,262.2 871.9,263.1 872.2,271.7 872.5,263.0 872.8,267.0 873.1,264.6 873.4,275.4 873.7,260.4 874.0,268.9 874.3,272.2 874.6,270.3 874.9,290.0 875.2,264.5 875.5,265.2 875.8,263.2 876.1,266.1 876.4,268.8 876.7,271.5 877.0,268.6 877.3,272.7 877.6,264.4 877.9,268.0 878.2,265.9 878.5,274.6 878.8,266.3 879.1,265.5 879.4,263.8 879.7,267.3 879.9,264.2 880.2,265.5 880.5,270.2 880.8,264.8 881.1,267.9 881.4,263.9 881.7,269.1 882.0,271.6 882.2,267.9 882.5,271.2 882.8,265.5 883.1,265.8 883.4,272.3 883.7,268.1 883.9,264.7 884.2,285.3 884.5,266.4 884.8,267.2 885.0,267.5 885.3,269.5 885.6,267.7 885.9,269.7 886.2,274.9 886.4,267.6 886.7,271.1 887.0,282.8 887.3,265.5 887.5,264.1 887.8,268.9 888.1,270.2 888.3,271.3 888.6,263.6 888.9,268.4 889.1,267.9 889.4,272.3 889.7,269.9 889.9,270.9 890.2,282.7 890.5,269.9 890.7,271.0 891.0,270.8 891.3,268.0 891.5,267.6 891.8,269.1 892.1,264.8 892.3,269.0 892.6,279.8 892.8,268.1 893.1,270.7 893.4,268.6 893.6,267.0 893.9,275.5 894.1,268.1 894.4,266.8 894.7,268.7 894.9,272.7 895.2,267.8 895.4,266.6 895.7,270.9 895.9,271.1 896.2,272.5 896.4,271.9 896.7,268.0 896.9,268.7 897.2,274.2 897.4,268.9 897.7,276.5 897.9,274.0 898.2,272.3 898.4,270.1 898.7,269.5 898.9,278.3 899.2,271.1 899.4,269.1 899.7,268.5 899.9,269.7 900.2,273.7 900.4,274.0 900.7,267.9 900.9,273.8 901.1,273.6 901.4,273.0 901.6,278.0 901.9,275.3 902.1,273.4 902.4,284.7 902.6,274.0 902.8,269.8 903.1,275.5 903.3,275.2 903.6,270.2 903.8,276.2 904.0,277.6 904.3,273.0 904.5,272.2 904.7,273.9 905.0,271.3 905.2,271.9 905.4,274.9 905.7,281.7 905.9,272.8 906.1,270.0 906.4,280.6 906.6,275.1 906.8,276.4 907.1,278.1 907.3,271.9 907.5,270.7 907.8,274.6 908.0,276.5 908.2,272.9 908.5,273.0 908.7,270.3 908.9,274.8 909.1,275.6 909.4,273.6 909.6,277.4 909.8,273.3 910.0,273.4 910.3,275.9 910.5,271.0 910.7,271.5 910.9,271.8 911.2,277.0 911.4,276.6 911.6,276.6 911.8,271.2 912.1,275.3 912.3,275.4 912.5,277.4 912.7,274.4 912.9,277.0 913.2,276.4 913.4,273.8 913.6,271.8 913.8,276.4 914.0,273.4 914.3,274.2 914.5,276.5 914.7,274.8 914.9,277.1 915.1,272.6 915.4,282.0 915.6,277.6 915.8,277.5 916.0,272.6 916.2,274.6 916.4,274.8 916.6,283.1 916.9,277.2 917.1,276.7 917.3,279.6 917.5,276.4 917.7,288.9 917.9,276.8 918.1,274.3 918.3,275.9 918.6,275.2 918.8,276.4 919.0,274.6 919.2,275.7 919.4,281.2 919.6,282.3 919.8,282.4 920.0,281.7 920.2,285.5 920.4,278.4 920.6,275.2 920.8,274.4 921.0,280.8 921.3,276.4 921.5,279.5 921.7,274.8 921.9,278.8 922.1,275.4 922.3,275.7 922.5,277.3 922.7,282.5 922.9,284.5 923.1,278.0 923.3,278.6 923.5,279.4 923.7,280.0 923.9,279.4 924.1,283.9 924.3,280.0 924.5,283.5 924.7,275.9 924.9,277.4 925.1,278.3 925.3,275.1 925.5,276.5 925.7,277.0 925.9,283.1 926.1,278.4 926.3,278.8 926.5,279.0 926.7,283.4 926.9,288.1 927.1,277.8 927.3,289.1 927.5,276.3 927.7,276.5 927.9,279.4 928.1,277.8 928.3,278.0 928.4,285.1 928.6,284.6 928.8,278.8 929.0,280.7 929.2,278.6 929.4,281.7 929.6,280.5 929.8,283.7 930.0,280.1 930.2,279.6 930.4,279.3 930.6,280.5 930.8,281.5 930.9,275.6 931.1,278.7 931.3,280.6 931.5,278.1 931.7,280.0 931.9,278.1 932.1,278.4 932.3,279.3 932.5,283.0 932.6,284.4 932.8,278.5 933.0,284.3 933.2,285.8 933.4,278.8 933.6,283.5 933.8,286.3 933.9,286.2 934.1,283.6 934.3,282.9 934.5,285.6 934.7,278.9 934.9,282.2 935.1,280.5 935.2,282.8 935.4,290.2 935.6,286.5 935.8,277.9 936.0,280.0 936.1,282.1 936.3,280.7 936.5,282.2 936.7,287.8 936.9,280.3 937.1,280.6 937.2,282.7 937.4,280.9 937.6,282.4 937.8,280.3 938.0,289.0 938.1,278.7 938.3,282.1 938.5,278.8 938.7,289.0 938.8,283.3 939.0,284.4 939.2,282.2 939.4,289.1 939.6,287.8 939.7,283.3 939.9,280.5 940.1,281.4 940.3,286.1 940.4,283.9 940.6,282.6 940.8,287.3 941.0,281.9 941.1,282.0 941.3,282.9 941.5,283.9 941.7,288.0 941.8,285.4 942.0,283.1 942.2,283.7 942.4,292.1 942.5,281.8 942.7,285.2 942.9,282.5 943.0,288.8 943.2,282.5 943.4,282.8 943.6,281.3 943.7,285.3 943.9,287.4 944.1,283.8 944.2,282.2 944.4,287.8 944.6,284.8 944.8,284.4 944.9,284.2 945.1,282.4 945.3,281.0 945.4,286.1 945.6,282.4 945.8,282.8 945.9,280.7 946.1,280.9 946.3,287.1 946.4,283.5 946.6,286.3 946.8,287.0 946.9,283.2 947.1,283.9 947.3,285.8 947.4,283.9 947.6,285.4 947.8,285.1 947.9,286.7 948.1,283.3 948.3,289.0 948.4,284.8 948.6,285.3 948.8,287.2 948.9,286.0 949.1,284.7 949.2,286.7 949.4,286.4 949.6,285.6 949.7,284.4 949.9,287.9 950.1,288.7 950.2,285.5 950.4,285.9 950.5,285.5 950.7,287.9 950.9,283.7 951.0,282.8 951.2,285.4" stroke="url(#gmagenta)" stroke-width="2.0" fill="none" stroke-linejoin="round"/>
<path d="M729.4,223.7 730.5,238.0 731.4,221.4 732.4,236.7 733.4,234.6 734.4,234.4 735.3,239.6 736.3,271.5 737.2,261.4 738.2,226.1 739.1,249.9 740.0,238.2 741.0,248.3 741.9,250.2 742.8,251.9 743.7,227.3 744.6,249.3 745.5,251.2 746.3,291.4 747.2,254.5 748.1,242.6 748.9,225.7 749.8,256.2 750.6,238.8 751.5,276.7 752.3,258.7 753.1,255.9 754.0,241.7 754.8,249.7 755.6,249.7 756.4,241.6 757.2,267.7 758.0,265.7 758.8,241.1 759.6,236.0 760.4,267.3 761.1,277.3 761.9,244.4 762.7,366.0 763.4,255.0 764.2,249.4 765.0,300.4 765.7,239.4 766.5,297.7 767.2,259.2 767.9,266.2 768.7,271.5 769.4,251.5 770.1,262.8 770.8,296.0 771.5,247.4 772.2,261.0 772.9,259.2 773.6,244.2 774.3,289.9 775.0,256.7 775.7,246.2 776.4,321.4 777.1,271.0 777.8,263.2 778.4,295.3 779.1,305.1 779.8,285.0 780.4,288.3 781.1,293.7 781.7,291.0 782.4,266.5 783.0,264.3 783.7,296.0 784.3,269.3 785.0,267.8 785.6,286.1 786.2,276.4 786.9,291.5 787.5,265.6 788.1,308.8 788.7,290.3 789.3,308.8 790.0,304.9 790.6,291.6 791.2,288.1 791.8,299.3 792.4,345.1 793.0,261.9 793.6,276.0 794.2,290.6 794.7,292.5 795.3,275.2 795.9,270.6 796.5,287.7 797.1,275.8 797.6,281.8 798.2,275.2 798.8,299.0 799.3,284.8 799.9,324.9 800.5,256.2 801.0,285.6 801.6,279.9 802.1,287.6 802.7,293.2 803.2,280.4 803.8,297.4 804.3,295.2 804.9,270.4 805.4,273.1 805.9,282.6 806.5,286.9 807.0,318.1 807.5,326.9 808.1,310.0 808.6,285.8 809.1,272.5 809.6,289.6 810.1,276.1 810.7,301.1 811.2,292.7 811.7,283.2 812.2,272.1 812.7,266.3 813.2,283.0 813.7,275.4 814.2,312.1 814.7,290.9 815.2,274.8 815.7,285.3 816.2,290.5 816.7,288.2 817.2,290.1 817.6,299.1 818.1,308.5 818.6,285.0 819.1,267.5 819.6,286.4 820.0,266.5 820.5,290.5 821.0,336.3 821.5,292.0 821.9,289.6 822.4,280.3 822.9,297.7 823.3,291.4 823.8,293.9 824.3,289.8 824.7,284.9 825.2,284.7 825.6,357.8 826.1,288.5 826.5,318.7 827.0,304.3 827.4,276.8 827.9,284.0 828.3,329.2 828.8,294.4 829.2,292.9 829.6,319.1 830.1,288.9 830.5,329.7 831.0,294.0 831.4,309.1 831.8,296.2 832.3,319.4 832.7,288.7 833.1,319.9 833.5,293.0 834.0,307.8 834.4,303.0 834.8,345.8 835.2,294.9 835.6,291.5 836.1,308.5 836.5,316.0 836.9,365.1 837.3,315.1 837.7,290.0 838.1,289.0 838.5,278.2 838.9,298.1 839.3,304.1 839.8,316.6 840.2,313.9 840.6,310.5 841.0,306.7 841.4,286.6 841.8,306.5 842.2,314.0 842.5,298.1 842.9,299.5 843.3,337.9 843.7,334.9 844.1,290.6 844.5,298.7 844.9,320.1 845.3,314.4 845.7,327.9 846.1,310.4 846.4,335.7 846.8,309.9 847.2,298.6 847.6,300.5 848.0,283.6 848.3,292.4 848.7,309.0 849.1,297.8 849.5,322.9 849.8,288.6 850.2,332.1 850.6,326.0 850.9,317.2 851.3,291.6 851.7,298.6 852.0,308.5 852.4,316.2 852.8,308.4 853.1,328.1 853.5,303.9 853.8,330.0 854.2,327.8 854.6,310.4 854.9,328.1 855.3,303.0 855.6,320.4 856.0,298.8 856.3,314.7 856.7,324.8 857.0,301.5 857.4,307.9 857.7,351.4 858.1,320.5 858.4,323.6 858.8,335.2 859.1,292.7 859.5,317.4 859.8,324.2 860.2,316.1 860.5,356.6 860.8,327.3 861.2,309.8 861.5,318.1 861.8,310.6 862.2,331.2 862.5,306.3 862.9,307.0 863.2,310.3 863.5,307.4 863.9,322.0 864.2,372.3 864.5,324.6 864.8,331.1 865.2,313.3 865.5,335.8 865.8,302.1 866.1,330.9 866.5,290.9 866.8,316.2 867.1,335.2 867.4,304.6 867.8,330.7 868.1,334.0 868.4,318.3 868.7,322.8 869.0,315.9 869.4,321.8 869.7,287.5 870.0,345.8 870.3,348.7 870.6,309.8 870.9,323.4 871.2,317.8 871.5,336.8 871.9,330.7 872.2,345.3 872.5,332.2 872.8,318.1 873.1,322.5 873.4,333.0 873.7,310.8 874.0,334.4 874.3,352.2 874.6,322.0 874.9,319.4 875.2,335.8 875.5,318.5 875.8,327.7 876.1,318.4 876.4,327.4 876.7,339.2 877.0,325.6 877.3,320.4 877.6,325.3 877.9,320.5 878.2,328.5 878.5,326.9 878.8,342.0 879.1,333.3 879.4,338.0 879.7,330.1 879.9,323.8 880.2,333.1 880.5,338.6 880.8,326.6 881.1,349.3 881.4,306.8 881.7,352.2 882.0,336.4 882.2,315.6 882.5,344.2 882.8,309.1 883.1,335.2 883.4,342.6 883.7,321.2 883.9,332.6 884.2,341.1 884.5,305.1 884.8,341.1 885.0,330.2 885.3,338.8 885.6,322.5 885.9,331.1 886.2,321.5 886.4,327.5 886.7,338.6 887.0,323.1 887.3,305.4 887.5,320.9 887.8,329.9 888.1,338.1 888.3,308.2 888.6,336.1 888.9,339.7 889.1,331.8 889.4,320.0 889.7,319.9 889.9,339.2 890.2,319.8 890.5,322.9 890.7,301.3 891.0,332.5 891.3,324.8 891.5,335.3 891.8,320.0 892.1,331.1 892.3,328.2 892.6,334.4 892.8,334.3 893.1,338.3 893.4,340.4 893.6,345.6 893.9,307.0 894.1,342.5 894.4,343.4 894.7,345.7 894.9,333.0 895.2,333.4 895.4,341.1 895.7,337.5 895.9,341.9 896.2,341.3 896.4,329.7 896.7,324.2 896.9,320.6 897.2,312.1 897.4,346.4 897.7,326.5 897.9,317.3 898.2,346.6 898.4,344.0 898.7,329.3 898.9,352.8 899.2,336.9 899.4,340.4 899.7,329.5 899.9,342.2 900.2,330.8 900.4,325.3 900.7,332.9 900.9,334.3 901.1,336.8 901.4,339.8 901.6,317.8 901.9,346.3 902.1,341.5 902.4,332.3 902.6,344.7 902.8,337.7 903.1,320.7 903.3,340.6 903.6,334.0 903.8,326.5 904.0,336.7 904.3,334.7 904.5,327.5 904.7,347.1 905.0,336.1 905.2,308.1 905.4,326.4 905.7,345.8 905.9,341.0 906.1,334.8 906.4,353.4 906.6,346.7 906.8,339.6 907.1,317.6 907.3,342.0 907.5,325.5 907.8,375.2 908.0,340.8 908.2,330.8 908.5,344.3 908.7,319.1 908.9,342.3 909.1,319.8 909.4,348.4 909.6,343.5 909.8,335.9 910.0,335.6 910.3,340.7 910.5,329.7 910.7,349.0 910.9,314.1 911.2,336.5 911.4,362.9 911.6,354.4 911.8,343.6 912.1,352.4 912.3,360.0 912.5,338.9 912.7,346.0 912.9,337.1 913.2,331.5 913.4,347.6 913.6,326.4 913.8,327.0 914.0,333.8 914.3,320.6 914.5,320.7 914.7,361.2 914.9,343.9 915.1,340.0 915.4,335.8 915.6,357.4 915.8,329.0 916.0,320.8 916.2,351.4 916.4,338.5 916.6,333.1 916.9,327.8 917.1,332.2 917.3,329.2 917.5,345.3 917.7,355.0 917.9,342.9 918.1,343.5 918.3,353.9 918.6,343.9 918.8,314.8 919.0,337.3 919.2,350.8 919.4,332.0 919.6,327.7 919.8,340.3 920.0,336.5 920.2,333.0 920.4,360.8 920.6,337.6 920.8,322.1 921.0,335.6 921.3,331.1 921.5,335.5 921.7,339.0 921.9,335.1 922.1,322.7 922.3,330.0 922.5,349.3 922.7,341.1 922.9,355.1 923.1,350.6 923.3,339.6 923.5,349.6 923.7,340.5 923.9,353.9 924.1,333.0 924.3,343.0 924.5,356.3 924.7,325.9 924.9,340.3 925.1,321.8 925.3,351.3 925.5,334.2 925.7,346.1 925.9,342.4 926.1,343.4 926.3,325.2 926.5,349.6 926.7,341.9 926.9,336.4 927.1,335.3 927.3,336.6 927.5,354.1 927.7,358.1 927.9,333.2 928.1,337.2 928.3,335.6 928.4,330.5 928.6,347.8 928.8,352.0 929.0,348.7 929.2,348.4 929.4,337.3 929.6,364.8 929.8,341.8 930.0,336.5 930.2,337.9 930.4,341.8 930.6,355.9 930.8,339.3 930.9,330.4 931.1,324.9 931.3,327.6 931.5,328.1 931.7,355.5 931.9,320.9 932.1,349.0 932.3,350.5 932.5,329.2 932.6,339.9 932.8,342.5 933.0,322.5 933.2,336.4 933.4,323.7 933.6,353.0 933.8,344.2 933.9,356.6 934.1,340.9 934.3,365.3 934.5,342.9 934.7,330.7 934.9,343.8 935.1,345.1 935.2,347.2 935.4,350.3 935.6,340.7 935.8,341.8 936.0,344.4 936.1,343.5 936.3,331.0 936.5,358.6 936.7,341.1 936.9,336.0 937.1,343.6 937.2,348.3 937.4,352.8 937.6,343.6 937.8,331.3 938.0,343.7 938.1,351.8 938.3,342.2 938.5,344.7 938.7,332.5 938.8,352.8 939.0,330.1 939.2,338.4 939.4,353.6 939.6,359.2 939.7,339.4 939.9,337.3 940.1,344.9 940.3,333.4 940.4,342.8 940.6,341.4 940.8,355.6 941.0,344.1 941.1,347.2 941.3,341.3 941.5,347.2 941.7,338.2 941.8,343.2 942.0,345.7 942.2,344.2 942.4,326.4 942.5,349.7 942.7,362.6 942.9,339.7 943.0,347.5 943.2,331.5 943.4,343.5 943.6,346.2 943.7,351.2 943.9,346.3 944.1,364.0 944.2,346.2 944.4,340.9 944.6,351.4 944.8,334.4 944.9,327.7 945.1,346.9 945.3,343.0 945.4,335.9 945.6,330.6 945.8,337.5 945.9,335.6 946.1,334.1 946.3,338.4 946.4,353.2 946.6,336.7 946.8,346.8 946.9,335.3 947.1,340.9 947.3,349.8 947.4,364.2 947.6,349.9 947.8,357.3 947.9,342.8 948.1,339.6 948.3,335.6 948.4,343.2 948.6,337.8 948.8,341.8 948.9,351.2 949.1,339.8 949.2,356.3 949.4,357.4 949.6,352.4 949.7,351.1 949.9,335.9 950.1,346.0 950.2,345.9 950.4,358.2 950.5,355.3 950.7,356.4 950.9,352.2 951.0,327.1 951.2,337.9" stroke="url(#gblack)" stroke-width="2.0" fill="none" stroke-linejoin="round"/>
<rect x="625.2" y="133.6" width="305.8" height="204" fill="none" stroke="#666" stroke-width="1.3"/>
<path d="M210.6 522.3v-6.5M210.6 20.5v4.5M260.5 522.3v-6.5M260.5 20.5v4.5M294.2 522.3v-6.5M294.2 20.5v4.5M321.6 522.3v-6.5M321.6 20.5v4.5M343.9 522.3v-6.5M343.9 20.5v4.5M362.6 522.3v-6.5M362.6 20.5v4.5M378.1 522.3v-6.5M378.1 20.5v4.5M392.5 522.3v-6.5M392.5 20.5v4.5M404.7 522.3v-13M404.7 20.5v9M488.5 522.3v-6.5M488.5 20.5v4.5M537.8 522.3v-6.5M537.8 20.5v4.5M572.4 522.3v-6.5M572.4 20.5v4.5M599.9 522.3v-6.5M599.9 20.5v4.5M621.8 522.3v-6.5M621.8 20.5v4.5M640.5 522.3v-6.5M640.5 20.5v4.5M656.0 522.3v-6.5M656.0 20.5v4.5M670.6 522.3v-6.5M670.6 20.5v4.5M682.7 522.3v-13M682.7 20.5v9M767.0 522.3v-6.5M767.0 20.5v4.5M816.8 522.3v-6.5M816.8 20.5v4.5M850.3 522.3v-6.5M850.3 20.5v4.5M877.9 522.3v-6.5M877.9 20.5v4.5M899.8 522.3v-6.5M899.8 20.5v4.5M918.4 522.3v-6.5M918.4 20.5v4.5M934.2 522.3v-6.5M934.2 20.5v4.5M948.3 522.3v-6.5M948.3 20.5v4.5M961.5 522.3v-6.5M961.5 20.5v4.5M126.8 103.4h12.5M974.8 103.4h-12.5M126.8 186.9h12.5M974.8 186.9h-12.5M126.8 270.4h12.5M974.8 270.4h-12.5M126.8 354.5h12.5M974.8 354.5h-12.5M126.8 438.2h12.5M974.8 438.2h-12.5" stroke="#555" stroke-width="1.6" fill="none"/>
<rect x="126.8" y="20.5" width="848.0" height="501.8" fill="none" stroke="#666" stroke-width="2"/>
<rect x="193" y="219.2" width="100.5" height="157.8" fill="#fff" stroke="#444" stroke-width="1.4"/>
<path d="M200 236.8H239" stroke="#6a62c0" stroke-width="2"/>
<path d="M247.6,246.40L249.6,246.40L249.6,232.50L248.2,232.50C247.9,234.17 246.8,235.28 245,235.56L245,236.95L247.6,236.95Z" fill="#444"/>
<text transform="translate(251.40,246.10) scale(0.2151,0.1928)" font-size="100" font-weight="normal" fill="#444" >mM</text>
<path d="M200 267.5H239" stroke="#66cc66" stroke-width="2"/>
<text transform="translate(244.03,276.80) scale(0.1938,0.1900)" font-size="100" font-weight="normal" fill="#444" >2mM</text>
<path d="M200 298.8H239" stroke="#cc6677" stroke-width="2"/>
<text transform="translate(244.23,307.91) scale(0.1929,0.1873)" font-size="100" font-weight="normal" fill="#444" >3mM</text>
<path d="M200 329.6H239" stroke="#bb66cc" stroke-width="2"/>
<text transform="translate(244.52,338.90) scale(0.1915,0.1928)" font-size="100" font-weight="normal" fill="#444" >4mM</text>
<path d="M200 359.6H239" stroke="#555555" stroke-width="2"/>
<text transform="translate(244.23,368.71) scale(0.1929,0.1900)" font-size="100" font-weight="normal" fill="#444" >5mM</text>
<path d="M66.59,25.05L69.74,25.05L69.74,12.65L67.35,12.65C66.97,13.89 65.71,14.63 63.45,14.76L63.45,16.25L66.59,16.25Z" fill="#000" stroke="#000" stroke-width="0.45"/><text transform="translate(72.70,24.88) scale(0.1972,0.1746)" font-size="100" font-weight="bold" fill="#000" stroke="#000" stroke-width="2.4">0</text>
<path d="M69.09,110.05L72.24,110.05L72.24,97.35L69.85,97.35C69.47,98.62 68.21,99.38 65.95,99.51L65.95,101.03L69.09,101.03Z" fill="#000" stroke="#000" stroke-width="0.45"/><text transform="translate(75.20,109.87) scale(0.1972,0.1789)" font-size="100" font-weight="bold" fill="#000" stroke="#000" stroke-width="2.4">0</text><rect x="93.55" y="97.05" width="5.16" height="2.28" fill="#000"/><path d="M105.03,103.05L107.92,103.05L107.92,91.05L105.72,91.05C105.38,92.25 104.22,92.97 102.15,93.09L102.15,94.53L105.03,94.53Z" fill="#000" stroke="#000" stroke-width="0.45"/><text transform="translate(110.63,102.88) scale(0.1810,0.1690)" font-size="100" font-weight="bold" fill="#000" stroke="#000" stroke-width="2.4">0</text>
<path d="M67.99,189.15L71.14,189.15L71.14,176.75L68.75,176.75C68.37,177.99 67.11,178.73 64.85,178.86L64.85,180.35L67.99,180.35Z" fill="#000" stroke="#000" stroke-width="0.45"/><text transform="translate(74.10,188.98) scale(0.1972,0.1746)" font-size="100" font-weight="bold" fill="#000" stroke="#000" stroke-width="2.4">0</text><rect x="90.45" y="177.00" width="5.22" height="2.11" fill="#000"/><path d="M102.06,182.55L104.98,182.55L104.98,171.45L102.76,171.45C102.41,172.56 101.24,173.23 99.14,173.34L99.14,174.67L102.06,174.67Z" fill="#000" stroke="#000" stroke-width="0.45"/><text transform="translate(107.82,182.55) scale(0.1811,0.1586)" font-size="100" font-weight="bold" fill="#000" stroke="#000" stroke-width="2.4">2</text>
<path d="M70.75,274.35L73.84,274.35L73.84,261.65L71.49,261.65C71.12,262.92 69.88,263.68 67.65,263.81L67.65,265.33L70.75,265.33Z" fill="#000" stroke="#000" stroke-width="0.45"/><text transform="translate(76.75,274.17) scale(0.1941,0.1789)" font-size="100" font-weight="bold" fill="#000" stroke="#000" stroke-width="2.4">0</text><rect x="93.25" y="259.75" width="5.35" height="2.36" fill="#000"/><path d="M105.17,265.95L108.16,265.95L108.16,253.55L105.88,253.55C105.53,254.79 104.33,255.53 102.17,255.66L102.17,257.15L105.17,257.15Z" fill="#000" stroke="#000" stroke-width="0.45"/><text transform="translate(111.48,265.95) scale(0.1667,0.1797)" font-size="100" font-weight="bold" fill="#000" stroke="#000" stroke-width="2.4">4</text>
<path d="M67.95,356.25L71.04,356.25L71.04,343.85L68.69,343.85C68.32,345.09 67.08,345.83 64.85,345.96L64.85,347.45L67.95,347.45Z" fill="#000" stroke="#000" stroke-width="0.45"/><text transform="translate(73.95,356.08) scale(0.1941,0.1746)" font-size="100" font-weight="bold" fill="#000" stroke="#000" stroke-width="2.4">0</text><rect x="90.75" y="344.75" width="5.16" height="2.36" fill="#000"/><path d="M102.23,350.95L105.12,350.95L105.12,338.55L102.92,338.55C102.58,339.79 101.42,340.53 99.35,340.66L99.35,342.15L102.23,342.15Z" fill="#000" stroke="#000" stroke-width="0.45"/><text transform="translate(107.93,350.78) scale(0.1772,0.1746)" font-size="100" font-weight="bold" fill="#000" stroke="#000" stroke-width="2.4">6</text>
<path d="M68.33,439.75L71.41,439.75L71.41,427.35L69.07,427.35C68.70,428.59 67.47,429.33 65.25,429.46L65.25,430.95L68.33,430.95Z" fill="#000" stroke="#000" stroke-width="0.45"/><text transform="translate(74.31,439.58) scale(0.1931,0.1746)" font-size="100" font-weight="bold" fill="#000" stroke="#000" stroke-width="2.4">0</text><rect x="89.05" y="426.85" width="5.22" height="2.36" fill="#000"/><path d="M100.66,433.05L103.58,433.05L103.58,420.65L101.36,420.65C101.01,421.89 99.84,422.63 97.74,422.76L97.74,424.25L100.66,424.25Z" fill="#000" stroke="#000" stroke-width="0.45"/><text transform="translate(106.53,432.88) scale(0.1756,0.1746)" font-size="100" font-weight="bold" fill="#000" stroke="#000" stroke-width="2.4">8</text>
<path d="M69.35,523.25L72.44,523.25L72.44,510.85L70.09,510.85C69.72,512.09 68.48,512.83 66.25,512.96L66.25,514.45L69.35,514.45Z" fill="#000" stroke="#000" stroke-width="0.45"/><text transform="translate(75.35,523.08) scale(0.1941,0.1746)" font-size="100" font-weight="bold" fill="#000" stroke="#000" stroke-width="2.4">0</text><rect x="91.85" y="508.95" width="4.71" height="2.36" fill="#000"/><text transform="translate(99.13,515.15) scale(0.1636,0.1771)" font-size="100" font-weight="bold" fill="#000" stroke="#000" stroke-width="2.4">2</text><text transform="translate(110.04,514.98) scale(0.1653,0.1746)" font-size="100" font-weight="bold" fill="#000" stroke="#000" stroke-width="2.4">0</text>
<path d="M115.43,551.15L118.51,551.15L118.51,538.75L116.17,538.75C115.80,539.99 114.57,540.73 112.35,540.86L112.35,542.35L115.43,542.35Z" fill="#000" stroke="#000" stroke-width="0.45"/><text transform="translate(121.41,550.98) scale(0.1931,0.1746)" font-size="100" font-weight="bold" fill="#000" stroke="#000" stroke-width="2.4">0</text><rect x="137.55" y="538.30" width="4.86" height="2.37" fill="#000"/><text transform="translate(145.06,544.55) scale(0.1688,0.1786)" font-size="100" font-weight="bold" fill="#000" stroke="#000" stroke-width="2.4">2</text>
<path d="M394.69,550.05L397.84,550.05L397.84,537.35L395.45,537.35C395.07,538.62 393.81,539.38 391.55,539.51L391.55,541.03L394.69,541.03Z" fill="#000" stroke="#000" stroke-width="0.45"/><text transform="translate(400.80,549.87) scale(0.1972,0.1789)" font-size="100" font-weight="bold" fill="#000" stroke="#000" stroke-width="2.4">0</text><rect x="418.45" y="538.15" width="4.95" height="2.43" fill="#000"/><path d="M429.48,544.55L432.25,544.55L432.25,531.75L430.14,531.75C429.81,533.03 428.70,533.80 426.71,533.93L426.71,535.46L429.48,535.46Z" fill="#000" stroke="#000" stroke-width="0.45"/>
<path d="M675.43,551.15L678.51,551.15L678.51,538.75L676.17,538.75C675.80,539.99 674.57,540.73 672.35,540.86L672.35,542.35L675.43,542.35Z" fill="#000" stroke="#000" stroke-width="0.45"/><text transform="translate(681.41,550.98) scale(0.1931,0.1746)" font-size="100" font-weight="bold" fill="#000" stroke="#000" stroke-width="2.4">0</text><text transform="translate(698.53,544.37) scale(0.1811,0.1803)" font-size="100" font-weight="bold" fill="#000" stroke="#000" stroke-width="2.4">0</text>
<path d="M965.79,546.85L968.94,546.85L968.94,534.45L966.55,534.45C966.17,535.69 964.91,536.43 962.65,536.56L962.65,538.05L965.79,538.05Z" fill="#000" stroke="#000" stroke-width="0.45"/><text transform="translate(971.90,546.68) scale(0.1972,0.1746)" font-size="100" font-weight="bold" fill="#000" stroke="#000" stroke-width="2.4">0</text><path d="M987.70,539.85L990.05,539.85L990.05,527.45L988.26,527.45C987.98,528.69 987.04,529.43 985.35,529.56L985.35,531.05L987.70,531.05Z" fill="#000" stroke="#000" stroke-width="0.45"/>
<text transform="translate(424.16,604.26) scale(0.3299,0.3209)" font-size="100" font-weight="bold" fill="#000" >Frequency [Hz]</text>
<text transform="translate(38.94,364.67) rotate(-90) scale(0.3653,0.3646)" font-size="100" font-weight="bold" fill="#000">Noise Level</text>
<path d="M701.75,67.00L706.60,67.00L706.60,44.50L702.91,44.50C702.33,46.75 700.39,48.10 696.90,48.33L696.90,51.02L701.75,51.02Z" fill="#000"/>
<path d="M716.9,67.0L720.6,67.0L728.4,42.9L724.9,42.9Z" fill="#000"/>
<text transform="translate(734.85,66.70) scale(0.3000,0.3117)" font-size="100" font-weight="bold" fill="#000" >f</text>
<text transform="translate(750.69,51.00) scale(0.2093,0.2319)" font-size="100" font-weight="bold" fill="#000" >4</text>
<path d="M724.2 74.2L697.5 112" stroke="#333" stroke-width="1.4"/>
<path d="M693.6 117.8L694.5 107.5L701.5 112.6Z" fill="#222"/>
</svg></body></html>
